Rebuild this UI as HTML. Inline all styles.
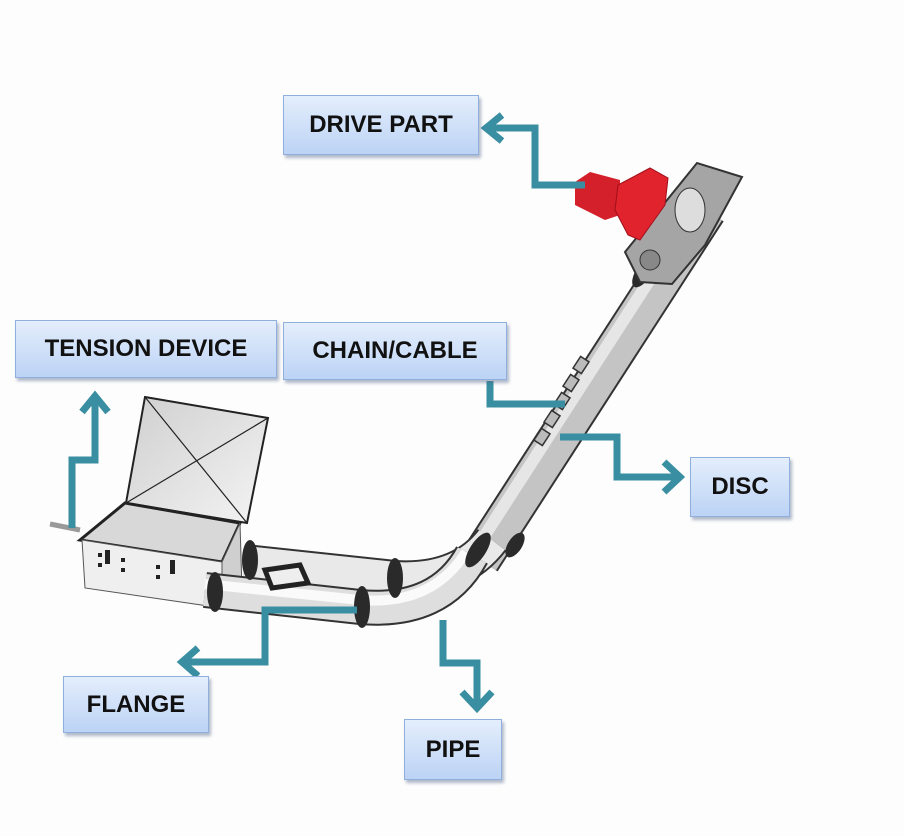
<!DOCTYPE html>
<html><head><meta charset="utf-8"><style>
body{margin:0;background:#fff;}
.wrap{position:relative;width:904px;height:836px;overflow:hidden;background:#fdfdfd;}
.box{position:absolute;box-sizing:border-box;border:1.5px solid #8fb0dc;background:linear-gradient(#e4eefc,#bcd3f5);box-shadow:2px 3px 3px rgba(80,100,140,.45);display:flex;align-items:center;justify-content:center;font-family:"Liberation Sans Narrow","Liberation Sans",sans-serif;font-weight:bold;font-size:24px;color:#111;}
svg{position:absolute;left:0;top:0;}
</style></head><body><div class="wrap">
<svg width="904" height="836" viewBox="0 0 904 836">
<defs>
<linearGradient id="lid" x1="0" y1="0" x2="1" y2="1"><stop offset="0" stop-color="#cfcfcf"/><stop offset="1" stop-color="#f4f4f4"/></linearGradient>
</defs>
<polygon points="145,397 268,418 247,523 126,503" fill="url(#lid)" stroke="#222" stroke-width="2"/>
<line x1="145" y1="397" x2="247" y2="523" stroke="#222" stroke-width="1.2"/>
<line x1="268" y1="418" x2="126" y2="503" stroke="#222" stroke-width="1.2"/>
<polygon points="80,540 125,503 240,523 222,562" fill="#d8d8d8" stroke="#222" stroke-width="3"/>
<polygon points="82,540 222,562 222,608 85,588" fill="#efefef" stroke="#555" stroke-width="1"/>
<polygon points="222,562 240,523 242,590 222,608" fill="#cfcfcf" stroke="#555" stroke-width="1"/>
<rect x="98" y="553" width="4" height="4" fill="#222"/><rect x="98" y="563" width="4" height="4" fill="#222"/>
<rect x="121" y="558" width="4" height="4" fill="#222"/><rect x="121" y="568" width="4" height="4" fill="#222"/>
<rect x="156" y="565" width="4" height="4" fill="#222"/><rect x="156" y="575" width="4" height="4" fill="#222"/>
<rect x="105" y="550" width="5" height="14" fill="#222"/><rect x="170" y="560" width="5" height="14" fill="#222"/>
<line x1="50" y1="524" x2="80" y2="530" stroke="#999" stroke-width="5"/>
<path d="M480,560 L706,210" fill="none" stroke="#333" stroke-width="42"/>
<path d="M480,560 L706,210" fill="none" stroke="#c4c4c4" stroke-width="38"/>
<path d="M474,552 L698,205" fill="none" stroke="#e6e6e6" stroke-width="12"/>
<path d="M245,562 L395,578 Q460,582 492,540" fill="none" stroke="#333" stroke-width="36"/>
<path d="M245,562 L395,578 Q460,582 492,540" fill="none" stroke="#e9e9e9" stroke-width="32"/>
<path d="M205,590 L360,607 Q440,614 472,555" fill="none" stroke="#333" stroke-width="36"/>
<path d="M205,590 L360,607 Q440,614 472,555" fill="none" stroke="#dedede" stroke-width="32"/>
<path d="M205,584 L360,600 Q432,606 466,552" fill="none" stroke="#fafafa" stroke-width="10"/>
<g fill="#2a2a2a">
<ellipse cx="250" cy="560" rx="8" ry="20"/><ellipse cx="215" cy="592" rx="8" ry="20"/>
<ellipse cx="395" cy="578" rx="8" ry="20"/><ellipse cx="362" cy="607" rx="8" ry="21"/>
<ellipse cx="478" cy="550" rx="20" ry="8" transform="rotate(-57 478 550)"/>
<ellipse cx="515" cy="545" rx="14" ry="7" transform="rotate(-57 515 545)"/>
<ellipse cx="645" cy="270" rx="20" ry="8" transform="rotate(-57 645 270)"/>
</g>
<polygon points="265,570 300,565 308,583 272,588" fill="#eee" stroke="#222" stroke-width="5"/>
<g fill="#bbb" stroke="#333" stroke-width="1.5">
<rect x="574" y="360" width="14" height="10" transform="rotate(-57 581 365)"/>
<rect x="564" y="378" width="14" height="10" transform="rotate(-57 571 383)"/>
<rect x="555" y="396" width="14" height="10" transform="rotate(-57 562 401)"/>
<rect x="545" y="414" width="14" height="10" transform="rotate(-57 552 419)"/>
<rect x="535" y="432" width="14" height="10" transform="rotate(-57 542 437)"/>
</g>
<polygon points="625,252 697,163 742,177 705,245 672,284 640,282" fill="#a5a5a5" stroke="#333" stroke-width="2"/>
<circle cx="650" cy="260" r="10" fill="#888" stroke="#333"/>
<ellipse cx="690" cy="210" rx="15" ry="22" fill="#ddd" stroke="#333"/>
<polygon points="575,182 590,172 620,180 620,215 605,220 575,205" fill="#d4202a"/>
<polygon points="618,185 650,168 668,178 665,205 640,240 628,235 615,210" fill="#e0232d" stroke="#a0101a" stroke-width="1"/>
<g fill="none" stroke="#3a8ea1" stroke-width="7" stroke-linejoin="miter">
<polyline points="585,185 535,185 535,128 488,128"/>
<polyline points="502,115 486,128 502,141"/>
<polyline points="72,528 72,460 95,460 95,397"/>
<polyline points="82,412 95,396 108,412"/>
<polyline points="490,381 490,404 565,404"/>
<polyline points="560,437 617,437 617,477 680,477"/>
<polyline points="664,462 680,477 664,492"/>
<polyline points="357,610 265,610 265,662 182,662"/>
<polyline points="198,648 182,662 198,676"/>
<polyline points="443,620 443,663 477,663 477,708"/>
<polyline points="462,692 477,708 492,692"/>
</g>
</svg>
<div class="box" style="left:283px;top:95px;width:196px;height:60px;">DRIVE PART</div>
<div class="box" style="left:15px;top:320px;width:262px;height:58px;">TENSION DEVICE</div>
<div class="box" style="left:283px;top:322px;width:224px;height:58px;">CHAIN/CABLE</div>
<div class="box" style="left:690px;top:457px;width:100px;height:60px;">DISC</div>
<div class="box" style="left:63px;top:676px;width:146px;height:57px;">FLANGE</div>
<div class="box" style="left:404px;top:719px;width:98px;height:61px;">PIPE</div>
</div></body></html>
